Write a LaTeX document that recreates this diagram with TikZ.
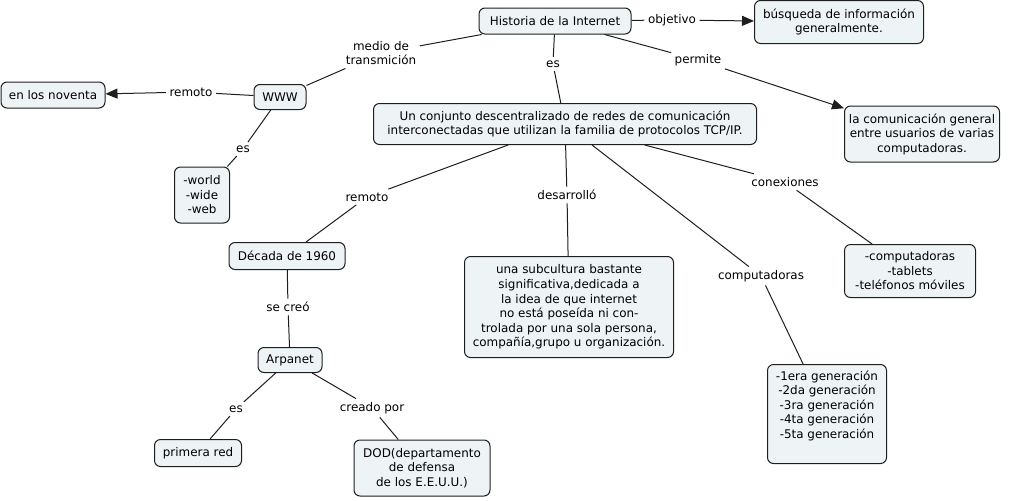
\documentclass[tikz,border=0pt]{standalone}
\usepackage{fontspec}
\setmainfont{DejaVu Sans}
\usetikzlibrary{arrows.meta}
\definecolor{boxfill}{RGB}{238,243,246}
\definecolor{edge}{RGB}{30,30,30}
\begin{document}
\begin{tikzpicture}[x=0.75pt,y=-0.75pt,
  concept/.style={draw=edge, fill=boxfill, rounded corners=4.5pt, align=center,
    font=\fontsize{8.95}{10.9}\selectfont, inner sep=0pt, line width=0.75pt},
  lab/.style={font=\fontsize{8.95}{10.9}\selectfont, inner sep=2.5pt, align=center},
  conn/.style={draw=edge, line width=0.75pt},
  arr/.style={conn, -{Triangle[length=9pt,width=7.5pt]}}]
\useasboundingbox (0,0) rectangle (1009,500);

% concepts
\node[concept, minimum width=114pt, minimum height=19.5pt] (hist) at (555,21) {Historia de la Internet};
\node[concept, minimum width=126.75pt, minimum height=32.25pt] (busq) at (839,22) {búsqueda de información\\generalmente.};
\node[concept, minimum width=39pt, minimum height=18.75pt] (www) at (280,97) {WWW};
\node[concept, minimum width=78pt, minimum height=19.5pt] (nov) at (53,95) {en los noventa};
\node[concept, minimum width=41.25pt, minimum height=42pt] (wwweb) at (202,195) {-world\\-wide\\-web};
\node[concept, minimum width=287.25pt, minimum height=30.75pt] (conj) at (565,124) {Un conjunto descentralizado de redes de comunicación\\interconectadas que utilizan la familia de protocolos TCP/IP.};
\node[concept, minimum width=116.25pt, minimum height=42pt] (comun) at (922,134) {la comunicación general\\entre usuarios de varias\\computadoras.};
\node[concept, minimum width=87pt, minimum height=20.25pt] (dec) at (287,256) {Década de 1960};
\node[concept, minimum width=156.75pt, minimum height=75.75pt] (sub) at (569,307) {una subcultura bastante\\significativa,dedicada a\\la idea de que internet\\no está poseída ni con-\\trolada por una sola persona,\\compañía,grupo u organización.};
\node[concept, minimum width=98.25pt, minimum height=39.75pt] (disp) at (910,271) {-computadoras\\-tablets\\-teléfonos móviles};
\node[concept, minimum width=48pt, minimum height=18.75pt] (arp) at (290,360) {Arpanet};
\node[concept, minimum width=65.25pt, minimum height=20.25pt] (prim) at (198,453) {primera red};
\node[concept, minimum width=102pt, minimum height=42pt] (dod) at (422,468) {DOD(departamento\\de defensa\\de los E.E.U.U.)};
\node[concept, minimum width=89.25pt, minimum height=74.25pt] (gen) at (827,414) {-1era generación\\-2da generación\\-3ra generación\\-4ta generación\\-5ta generación\\\strut};

% linking phrases
\node[lab] (lobj) at (672,20) {objetivo};
\node[lab] (lmed) at (381,53) {medio de\\transmición};
\node[lab] (les1) at (553,64) {es};
\node[lab] (lper) at (698,60) {permite};
\node[lab] (lrem1) at (191,92) {remoto};
\node[lab] (les2) at (243,149) {es};
\node[lab] (lrem2) at (367,197) {remoto};
\node[lab] (ldes) at (567,195) {desarrolló};
\node[lab] (lcon) at (785,182) {conexiones};
\node[lab] (lcomp) at (761,276) {computadoras};
\node[lab] (lcre) at (288,307) {se creó};
\node[lab] (les3) at (236,409) {es};
\node[lab] (lpor) at (372,408) {creado por};

% connectors
\draw[conn] (hist) -- (lobj);
\draw[arr] (lobj) -- (busq);
\draw[conn] (hist) -- (lmed);
\draw[conn] (lmed) -- (www);
\draw[conn] (hist) -- (les1);
\draw[conn] (les1) -- (conj);
\draw[conn] (hist) -- (lper);
\draw[arr] (lper) -- (comun);
\draw[conn] (www) -- (lrem1);
\draw[arr] (lrem1) -- (nov);
\draw[conn] (www) -- (les2);
\draw[conn] (les2) -- (wwweb);
\draw[conn] (conj) -- (lrem2);
\draw[conn] (lrem2) -- (dec);
\draw[conn] (conj) -- (ldes);
\draw[conn] (ldes) -- (sub);
\draw[conn] (conj) -- (lcon);
\draw[conn] (lcon) -- (disp);
\draw[conn] (conj) -- (lcomp);
\draw[conn] (lcomp) -- (gen);
\draw[conn] (dec) -- (lcre);
\draw[conn] (lcre) -- (arp);
\draw[conn] (arp) -- (les3);
\draw[conn] (les3) -- (prim);
\draw[conn] (arp) -- (lpor);
\draw[conn] (lpor) -- (dod);
\end{tikzpicture}
\end{document}
